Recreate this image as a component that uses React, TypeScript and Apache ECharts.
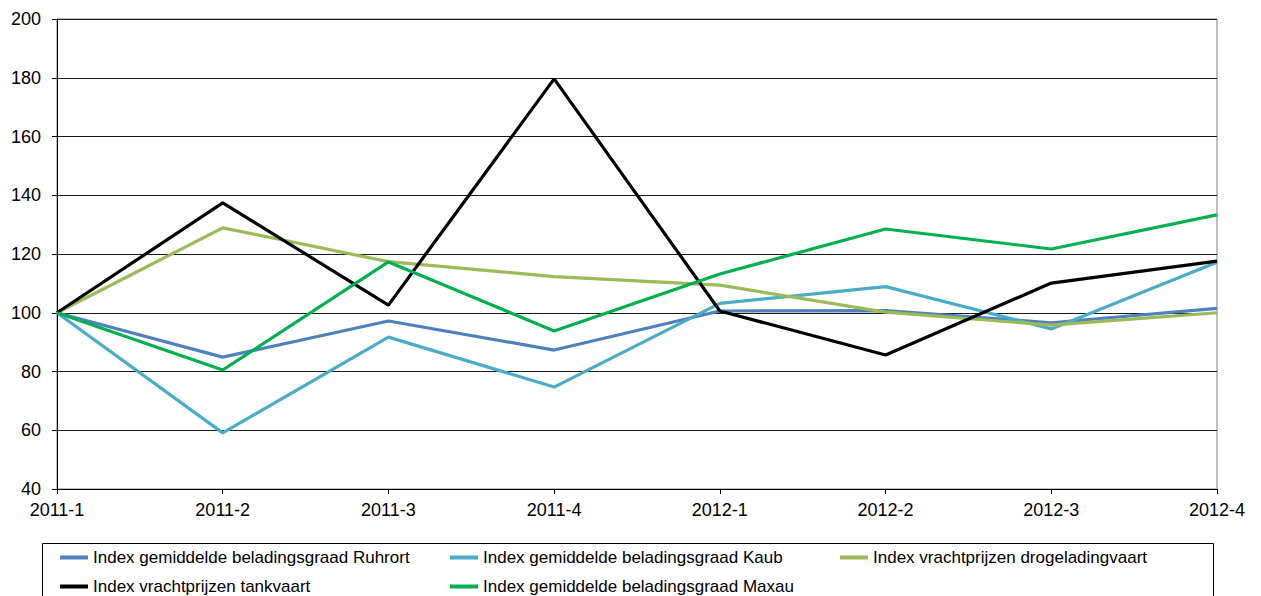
import React, { useEffect, useRef } from "react";
import * as echarts from "echarts";

const categories = ["2011-1", "2011-2", "2011-3", "2011-4", "2012-1", "2012-2", "2012-3", "2012-4"];
const seriesNames = [
  "Index gemiddelde beladingsgraad Ruhrort",
  "Index gemiddelde beladingsgraad Kaub",
  "Index vrachtprijzen drogeladingvaart",
  "Index vrachtprijzen tankvaart",
  "Index gemiddelde beladingsgraad Maxau",
];
const ruhrort = [100, 84.9, 97.2, 87.3, 100.6, 100.7, 96.6, 101.5];
const kaub = [100, 59.1, 91.7, 74.7, 103.2, 108.9, 94.5, 117.2];
const droge = [100, 128.9, 117.4, 112.3, 109.4, 100.2, 95.8, 100];
const tank = [100, 137.4, 102.6, 179.6, 100.6, 85.6, 110.1, 117.6];
const maxau = [100, 80.5, 117.3, 93.8, 113.2, 128.5, 121.7, 133.3];
const colors = ["#4F81BD", "#4BACC6", "#9BBB59", "#000000", "#00B050"];

const FONT = "'Liberation Sans', Arial, sans-serif";

export default function App() {
  const ref = useRef<HTMLDivElement>(null);
  useEffect(() => {
    if (!ref.current) return;
    const chart = echarts.init(ref.current, undefined, { renderer: "svg" });
    const values = [ruhrort, kaub, droge, tank, maxau];
    const legendPos = [
      { left: 60, top: 549 },
      { left: 450, top: 549 },
      { left: 840, top: 549 },
      { left: 60, top: 578 },
      { left: 450, top: 578 },
    ];
    chart.setOption({
      animation: false,
      textStyle: { fontFamily: FONT },
      grid: {
        left: 57,
        right: 44,
        top: 19,
        bottom: 107,
        show: true,
        borderColor: "#808080",
        borderWidth: 1,
      },
      xAxis: {
        type: "category",
        data: categories,
        boundaryGap: false,
        axisLine: { lineStyle: { color: "#000", width: 1 } },
        axisTick: { show: true, length: 5, lineStyle: { color: "#000" } },
        axisLabel: { color: "#000", fontSize: 18, fontFamily: FONT, margin: 12 },
        splitLine: { show: false },
      },
      yAxis: {
        type: "value",
        min: 40,
        max: 200,
        interval: 20,
        axisLine: { show: true, lineStyle: { color: "#000", width: 1 } },
        axisTick: { show: true, length: 5, lineStyle: { color: "#000" } },
        axisLabel: { color: "#000", fontSize: 18, fontFamily: FONT, margin: 16 },
        splitLine: { show: true, lineStyle: { color: "#1a1a1a", width: 1 } },
      },
      legend: seriesNames.map((n, i) => ({
        data: [n],
        left: legendPos[i].left,
        top: legendPos[i].top,
        padding: 0,
        icon: "rect",
        itemWidth: 28,
        itemHeight: 4,
        selectedMode: false,
        textStyle: { color: "#000", fontSize: 17, fontFamily: FONT },
      })),
      graphic: [
        {
          type: "rect",
          shape: { x: 42.5, y: 543.5, width: 1171, height: 80 },
          style: { fill: "none", stroke: "#000", lineWidth: 1 },
          z: -1,
        },
      ],
      series: seriesNames.map((n, i) => ({
        name: n,
        type: "line",
        data: values[i],
        symbol: "none",
        color: colors[i],
        lineStyle: { color: colors[i], width: 3.2 },
      })),
    });
    return () => chart.dispose();
  }, []);
  return (
    <div
      ref={ref}
      style={{ position: "fixed", left: 0, top: 0, width: 1261, height: 596, background: "#fff" }}
    />
  );
}
